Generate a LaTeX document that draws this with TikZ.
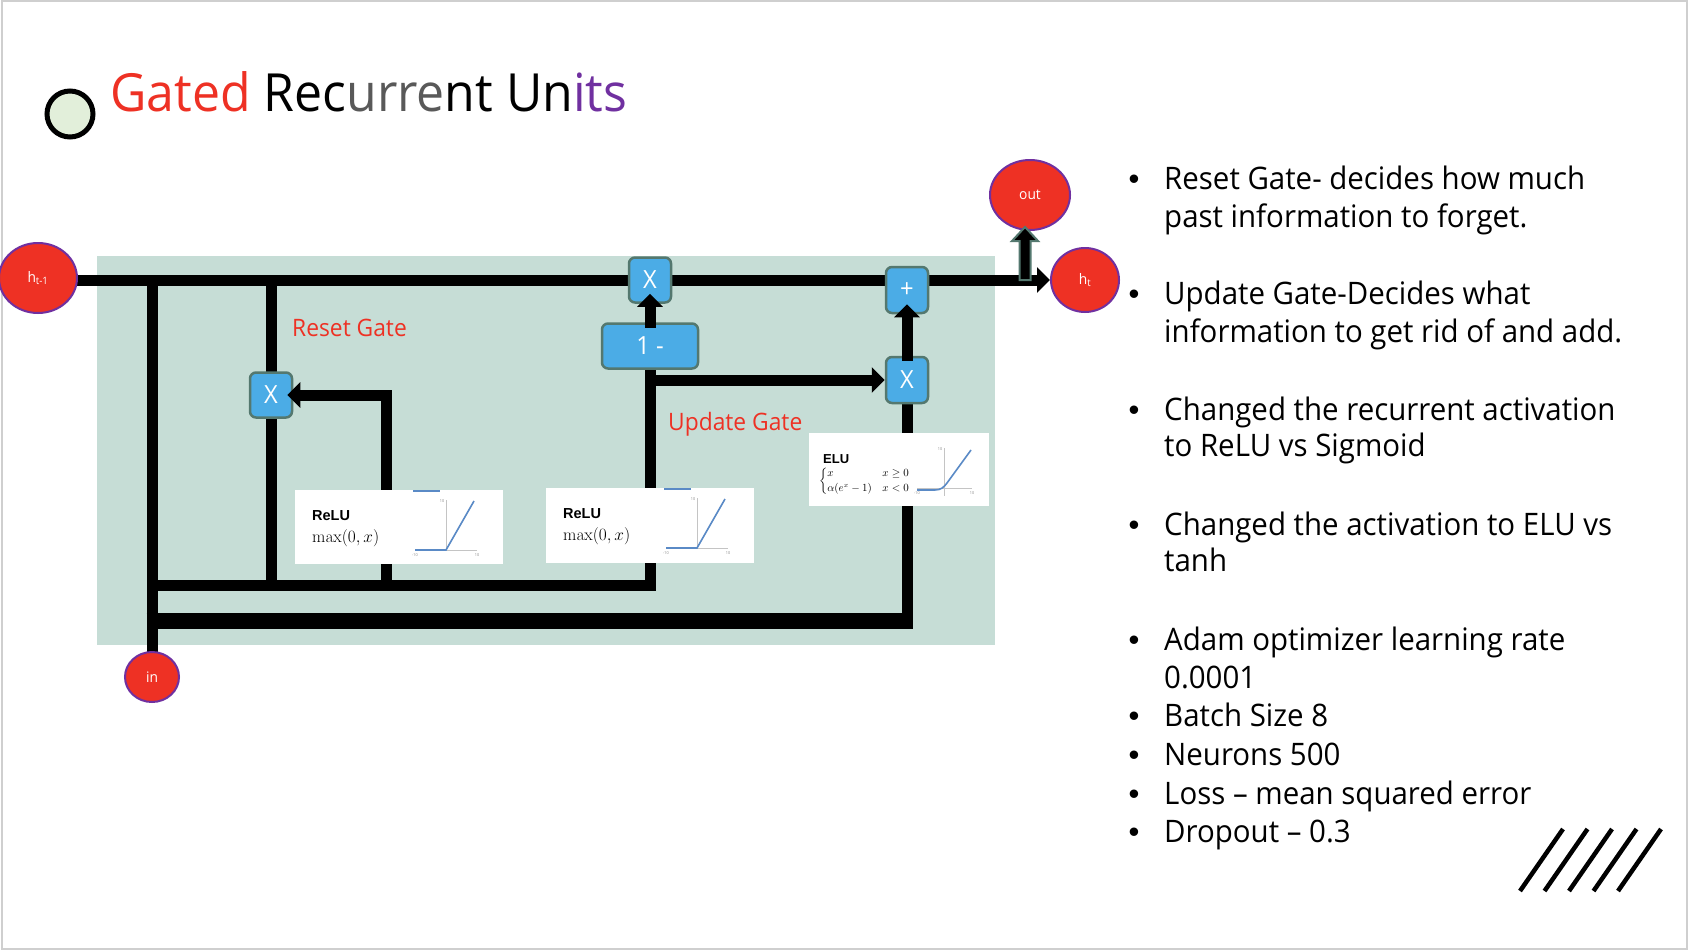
\documentclass[tikz,border=0pt]{standalone}
\usepackage{amsmath}
\usepackage[no-math]{fontspec}
\setmainfont{Open Sans}[FakeStretch=0.95]
\newfontfamily\plotfont{Liberation Sans}
\usetikzlibrary{arrows.meta,shapes.geometric,calc}

\definecolor{gruRed}{HTML}{EE3124}
\definecolor{gruPurple}{HTML}{7030A0}
\definecolor{gruGray}{HTML}{595959}
\definecolor{cellBg}{HTML}{C6DDD6}
\definecolor{opBlue}{HTML}{4BACE6}
\definecolor{opEdge}{HTML}{54786F}
\definecolor{dotFill}{HTML}{E2EFDA}
\definecolor{plotBlue}{HTML}{5A8AC6}
\definecolor{axisGray}{HTML}{C4C4C4}
\definecolor{tickGray}{HTML}{8A8A8A}
\definecolor{frameGray}{HTML}{CFCFCF}

\pgfdeclarelayer{back}
\pgfdeclarelayer{wires}
\pgfsetlayers{back,wires,main}

\begin{document}
\begin{tikzpicture}[x=1pt, y=-1pt,
  wire/.style={line width=11pt, line cap=rect, draw=black},
  flow/.style={wire, -{Triangle[length=13pt,width=25pt]}},
  statenode/.style={ellipse, fill=gruRed, draw=gruPurple, line width=2pt, text=white, inner sep=0pt, font=\fontsize{14.5}{14.5}\selectfont},
  opbox/.style={rectangle, rounded corners=6pt, fill=opBlue, draw=opEdge, line width=2.5pt, text=white, inner sep=0pt, font=\fontsize{25}{25}\selectfont},
  plotbox/.style={rectangle, fill=white, inner sep=0pt},
  gatelabel/.style={anchor=base west, inner sep=0pt, text=gruRed, font=\fontsize{24}{28}\selectfont},
  itemtext/.style={anchor=base west, inner sep=0pt, font=\fontsize{31}{37}\selectfont},
  itemdot/.style={anchor=base, inner sep=0pt, font=\plotfont\fontsize{31}{37}\selectfont},
  axisline/.style={draw=axisGray, line width=0.7pt},
  plotcurve/.style={draw=plotBlue, line width=1.6pt},
  ticklabel/.style={inner sep=0pt, text=tickGray, font=\fontsize{4}{4}\selectfont},
  fnname/.style={anchor=base west, inner sep=0pt, font=\plotfont\bfseries\fontsize{14.5}{15}\selectfont},
]
\useasboundingbox (0,0) rectangle (1688,950);

% page and cell background
\begin{pgfonlayer}{back}
  \fill[white] (0,0) rectangle (1688,950);
  \draw[frameGray, line width=2pt] (1.5,1.5) rectangle (1686.5,948.5);
  \fill[cellBg] (97,256) rectangle (995,645);
\end{pgfonlayer}

% title
\node[circle, minimum size=46pt, inner sep=0pt, fill=dotFill, draw=black, line width=5pt] (dot) at (70,114) {};
\node[anchor=base west, inner sep=0pt, font=\fontsize{52.6}{60}\selectfont] (title) at (110,111)
  {{\color{gruRed}Gated} Rec{\color{gruGray}urre}nt Un{\color{gruPurple}its}};

% states
\node[statenode, minimum width=78pt, minimum height=70pt] (hprev) at (38,278) {h\textsubscript{t-1}};
\node[statenode, minimum width=68pt, minimum height=64pt] (hnext) at (1085,280) {h\textsubscript{t}};
\node[statenode, minimum width=80pt, minimum height=70pt] (out) at (1030,195) {out};
\node[statenode, minimum width=54pt, minimum height=50pt] (in) at (152,677) {in};

% operations
\node[opbox, minimum width=42pt, minimum height=45pt] (rx) at (271,395) {X};
\node[opbox, minimum width=42pt, minimum height=45pt] (tx) at (650,280) {X};
\node[opbox, minimum width=96pt, minimum height=45pt] (om) at (650,346) {1 -};
\node[opbox, minimum width=42pt, minimum height=46pt] (ux) at (907,380) {X};
\node[opbox, minimum width=42pt, minimum height=46pt] (plus) at (907,290) {+};

% gate labels
\node[gatelabel] (resetlbl) at (292,336) {Reset Gate};
\node[gatelabel] (updatelbl) at (668,430) {Update Gate};

% junction points
\coordinate (bus1) at (152,585);
\coordinate (bus2) at (146.5,621);
\coordinate (rtap) at (386,585);
\coordinate (otip) at ($(out.south)+(-5,-4)$);
\coordinate (obase) at (otip |- hnext.west);

% wires behind the boxes
\begin{pgfonlayer}{wires}
  \draw[flow] (hprev.east |- tx) -- (hnext.west);
  \draw[wire] (in.north |- tx) -- (in.north);
  \draw[wire] (rx.north |- tx) -- (rx.north);
  \draw[wire] (rx.south) -- (rx.south |- bus1);
  \draw[wire] (bus1) -- (bus1 -| om.south);
  \draw[wire] (rtap) -- (rtap |- rx.east);
  \draw[wire] (om.south) -- (om.south |- bus1);
  \draw[flow] (om.south |- ux.west) -- (ux.west);
  \draw[wire, line width=16pt, line cap=butt] (bus2) -- ([xshift=5.5pt]bus2 -| ux.south);
  \draw[wire] (bus2 -| ux.south) -- (ux.south);
\end{pgfonlayer}

% activation plots
\node[plotbox, minimum width=208pt, minimum height=74pt] (relu1) at (399,527) {};
\node[plotbox, minimum width=208pt, minimum height=75pt] (relu2) at (650,525.5) {};
\node[plotbox, minimum width=180pt, minimum height=73pt] (elu) at (898.5,469.5) {};

\foreach \dx/\dy/\k in {0/0/1, 251/-2/2} {
  \begin{scope}[shift={(\dx,\dy)}]
    \node[fnname] (relu\k-name) at (312,520) {ReLU};
    \node[anchor=base west, inner sep=0pt, font=\fontsize{16.5}{16.5}\selectfont] (relu\k-eq) at (312,542) {$\max(0,x)$};
    \draw[axisline] (446,500) -- (446,550);
    \draw[axisline] (415,550) -- (477,550);
    \draw[plotcurve] (413,491) -- (440,491);
    \draw[plotcurve] (415,550) -- (446,550) -- (474,501);
    \node[ticklabel] (relu\k-t1) at (415,555) {-10};
    \node[ticklabel] (relu\k-t2) at (477,555) {10};
    \node[ticklabel] (relu\k-t3) at (442,501) {10};
  \end{scope}
}

\node[fnname, font=\plotfont\bfseries\fontsize{13}{14}\selectfont] (eluname) at (823,463) {ELU};
\node[anchor=west, inner sep=0pt, font=\fontsize{10.5}{12}\selectfont] (elueq) at (819,481)
  {$\begin{cases} x & x\geq 0\\ \alpha(e^x-1) & x<0 \end{cases}$};
\draw[axisline] (944,448) -- (944,496);
\draw[axisline] (917,488) -- (972,488);
\draw[plotcurve] (917,490) -- (935,490) .. controls (941,490) and (944,487) .. (947,483) -- (971,450);
\node[ticklabel] (elut1) at (917,493) {-10};
\node[ticklabel] (elut2) at (972,493) {10};
\node[ticklabel] (elut3) at (940,449) {10};

% arrows drawn over the boxes
\draw[flow] (rtap |- rx.east) -- ([xshift=-6pt]rx.east);
\draw[flow, shorten >=-10pt] (om.north) -- (tx.south);
\draw[flow, shorten >=-10pt] (ux.north) -- (plus.south);
\filldraw[fill=black, draw=opEdge, line width=2pt]
  ($(obase)+(-5.5,0)$) -- ($(otip)+(-5.5,14)$) -- ($(otip)+(-13,14)$) -- (otip)
  -- ($(otip)+(13,14)$) -- ($(otip)+(5.5,14)$) -- ($(obase)+(5.5,0)$) -- cycle;

% notes
\node[itemdot] (d1) at (1134,189) {•};
\node[itemtext] (l1) at (1164,189) {Reset Gate- decides how much};
\node[itemtext] (l2) at (1164,227) {past information to forget.};
\node[itemdot] (d2) at (1134,304) {•};
\node[itemtext] (l3) at (1164,304) {Update Gate-Decides what};
\node[itemtext] (l4) at (1164,342) {information to get rid of and add.};
\node[itemdot] (d3) at (1134,420) {•};
\node[itemtext] (l5) at (1164,420) {Changed the recurrent activation};
\node[itemtext] (l6) at (1164,456) {to ReLU vs Sigmoid};
\node[itemdot] (d4) at (1134,535) {•};
\node[itemtext] (l7) at (1164,535) {Changed the activation to ELU vs};
\node[itemtext] (l8) at (1164,571) {tanh};
\node[itemdot] (d5) at (1134,650) {•};
\node[itemtext] (l9) at (1164,650) {Adam optimizer learning rate};
\node[itemtext] (l10) at (1164,688) {0.0001};
\node[itemdot] (d6) at (1134,726) {•};
\node[itemtext] (l11) at (1164,726) {Batch Size 8};
\node[itemdot] (d7) at (1134,765) {•};
\node[itemtext] (l12) at (1164,765) {Neurons 500};
\node[itemdot] (d8) at (1134,804) {•};
\node[itemtext] (l13) at (1164,804) {Loss – mean squared error};
\node[itemdot] (d9) at (1134,842) {•};
\node[itemtext] (l14) at (1164,842) {Dropout – 0.3};

% hatch mark
\foreach \i in {0,...,4} {
  \draw[line width=4.5pt] (1520+24.5*\i,891) -- (1563+24.5*\i,829);
}
\end{tikzpicture}
\end{document}
